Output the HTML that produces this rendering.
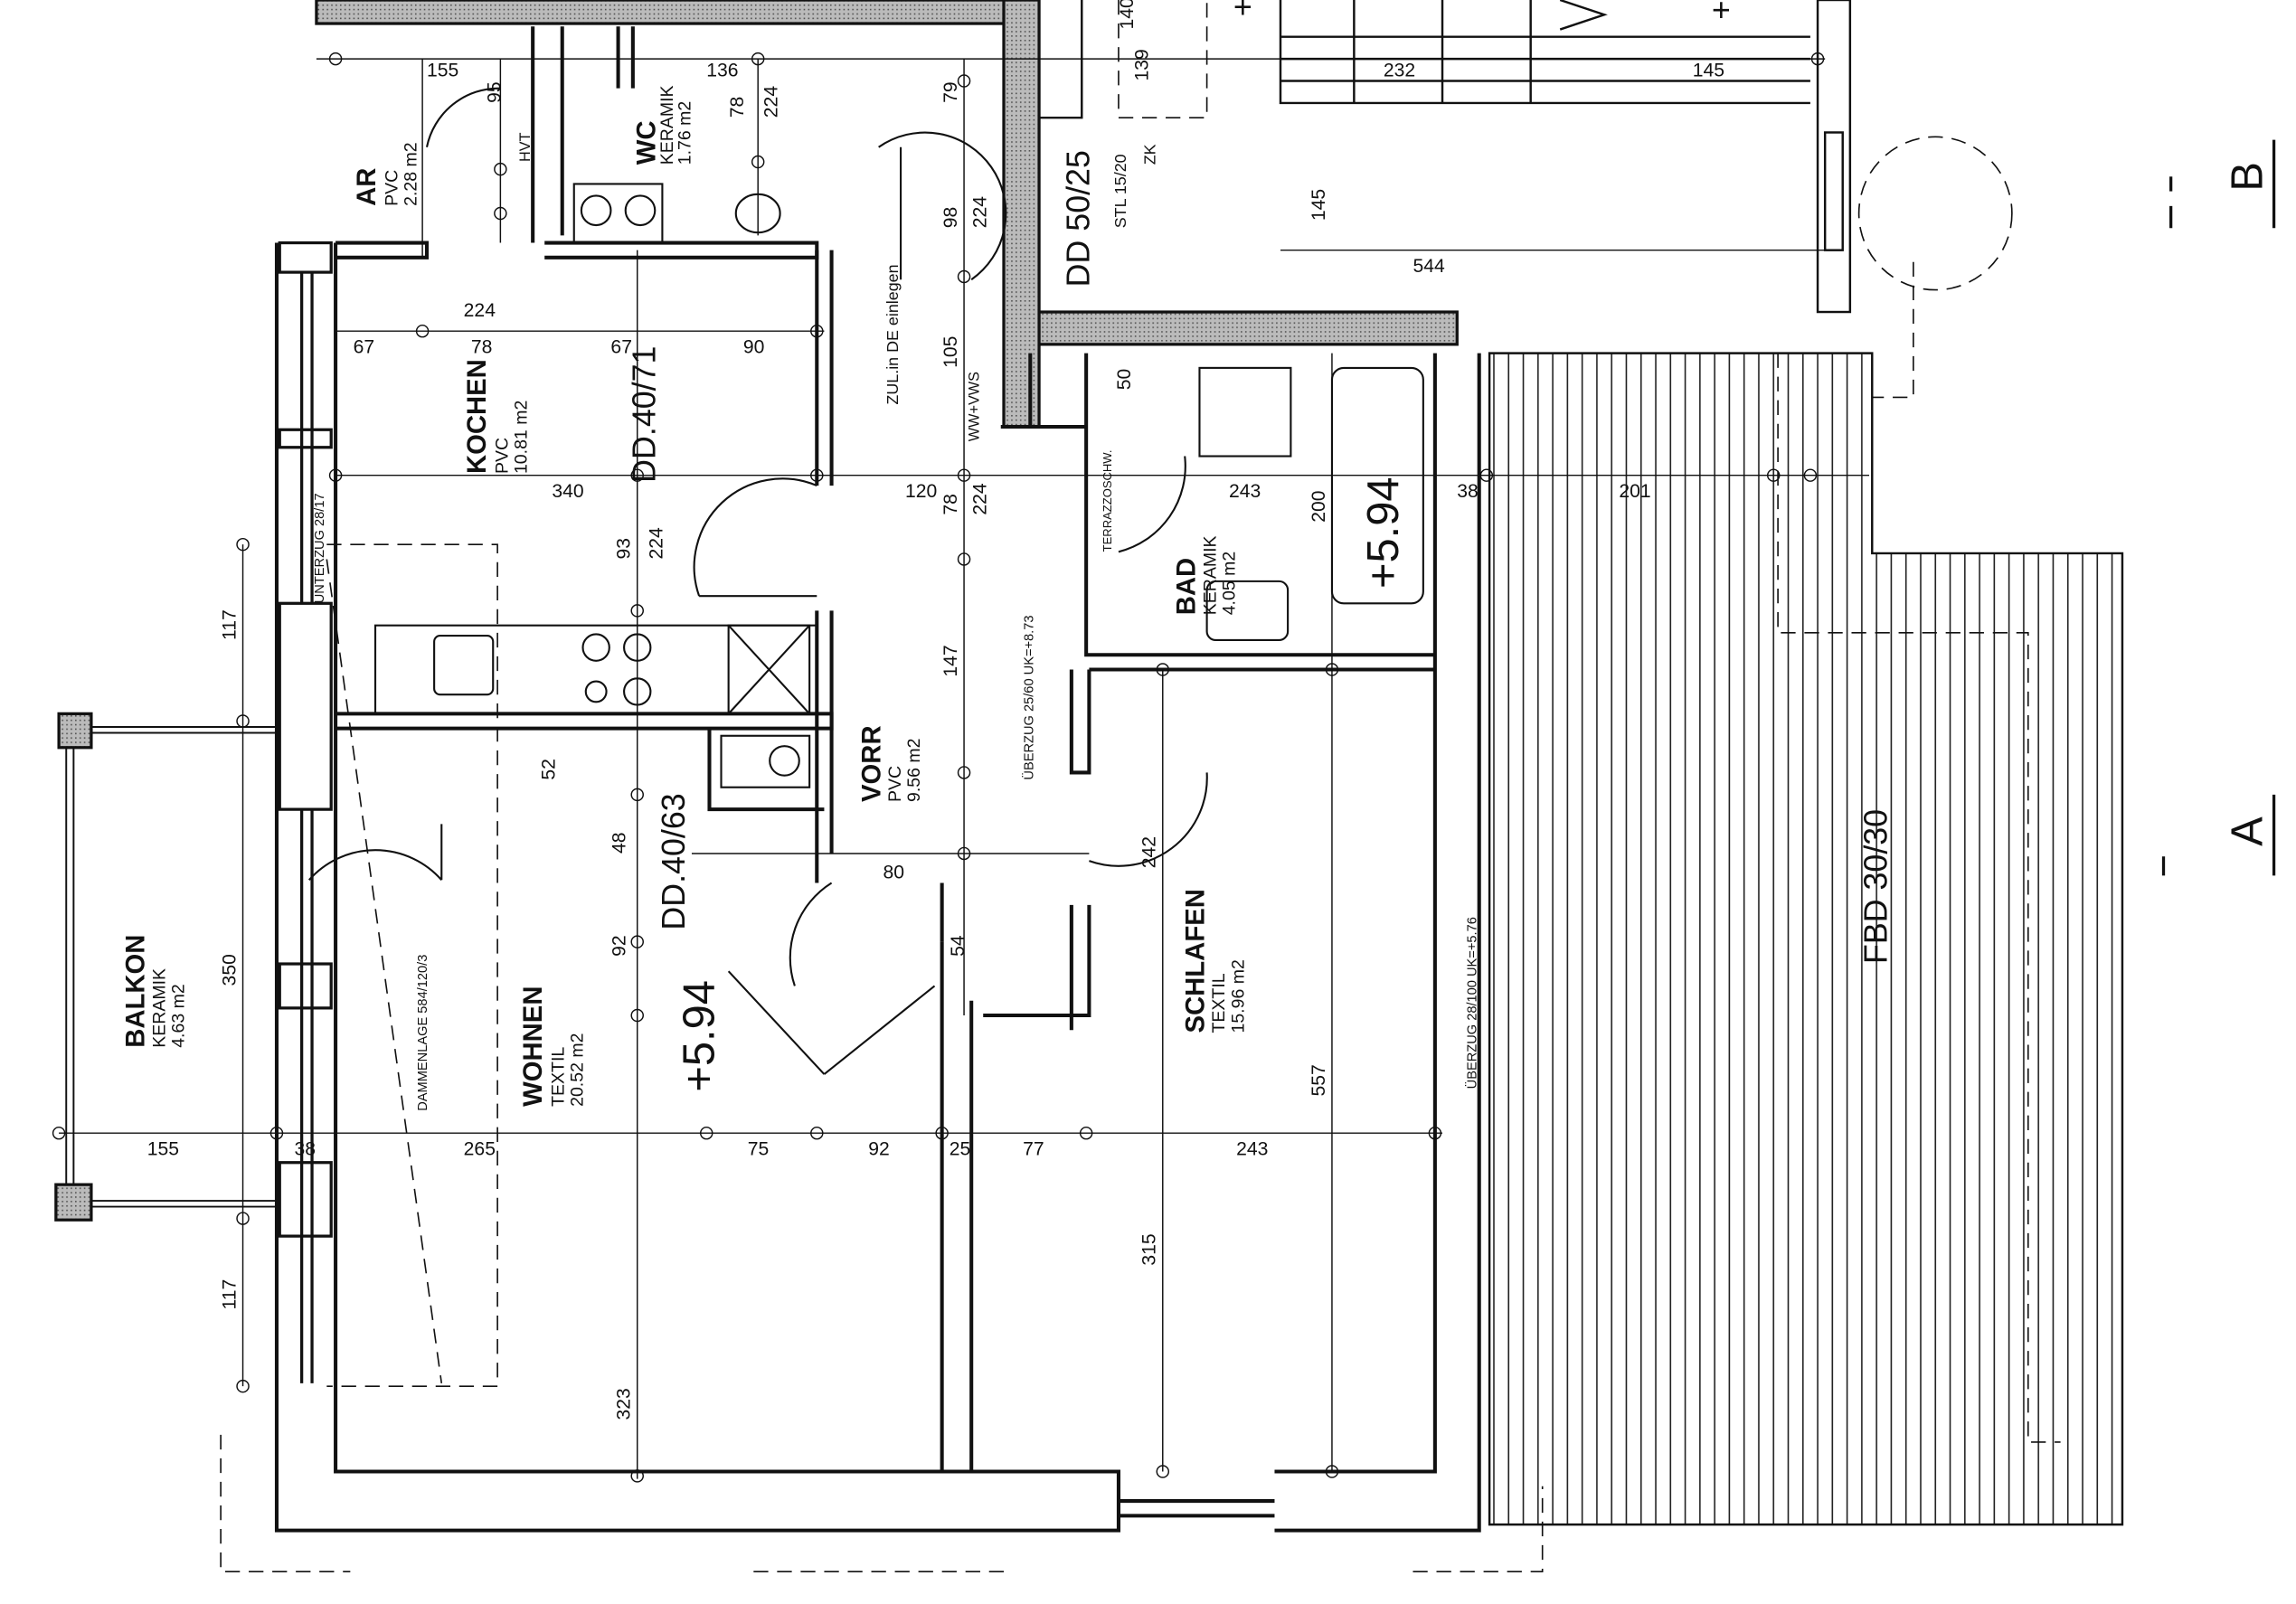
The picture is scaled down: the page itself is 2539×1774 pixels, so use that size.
<!DOCTYPE html>
<html><head><meta charset="utf-8"><style>
html,body{margin:0;padding:0;background:#fff;}
svg{display:block;}
text{font-family:"Liberation Sans",sans-serif;fill:#111;}
</style></head><body>
<svg width="2539" height="1774" viewBox="0 0 1560 1090" preserveAspectRatio="none" xmlns="http://www.w3.org/2000/svg">
<defs>
<pattern id="hat" width="3" height="3" patternUnits="userSpaceOnUse"><rect width="3" height="3" fill="#bbb"/><rect width="1" height="1" fill="#555"/></pattern>
<pattern id="vl" width="10" height="10" patternUnits="userSpaceOnUse"><line x1="5" y1="0" x2="5" y2="10" stroke="#222" stroke-width="1"/></pattern>
</defs>
<rect width="1560" height="1090" fill="#fff"/>
<!-- terrace -->
<path d="M1012 240 H1272 V376 H1442 V1036 H1012 Z" fill="url(#vl)" stroke="#111" stroke-width="1.5"/>
<g fill="none" stroke="#111" stroke-width="1" stroke-dasharray="10,6">
<path d="M1208 240 V430 H1378 V980 H1400"/>
<circle cx="1315" cy="145" r="52"/>
<path d="M1300 178 V270 H1272"/>
<path d="M150 975 V1068 H238 M512 1068 H688 M960 1068 H1048 V1010"/>
<path d="M222 370 H338 V942 H222"/>
<path d="M222 380 L300 940"/>
<path d="M760 0 V80 H820 V0"/>
</g>
<!-- top right stairs/wall -->
<g fill="none" stroke="#111" stroke-width="1.5">
<rect x="1235" y="0" width="22" height="212"/>
<rect x="1240" y="90" width="12" height="80" fill="#fff"/>
<path d="M705 0 V80 H735 V0"/>
<path d="M870 0 V70 H1230"/>
<path d="M870 55 H1230 M870 40 H1230 M870 25 H1230"/>
<path d="M920 70 V0 M980 70 V0 M1040 70 V0"/>
<path d="M1060 0 L1090 10 L1060 20"/>
</g>
<text x="838" y="12" font-size="22">+</text><text x="1163" y="14" font-size="22">+</text>
<!-- top hatched band -->
<rect x="215" y="0" width="475" height="16" fill="url(#hat)" stroke="#111" stroke-width="2"/>
<rect x="690" y="212" width="300" height="22" fill="url(#hat)" stroke="#111" stroke-width="2"/>
<rect x="682" y="0" width="24" height="290" fill="url(#hat)" stroke="#111" stroke-width="2"/>
<!-- walls -->
<g fill="none" stroke="#111" stroke-width="2.5">
<path d="M188 165 V1040 H760 V1000 H228 V165"/>
<path d="M866 1040 H1005 V240"/>
<path d="M866 1000 H975 V240"/>
<path d="M760 1020 H866 M760 1030 H866"/>
<path d="M228 175 H290 V165 H228"/>
<path d="M228 485 H565 V495 H228"/>
<path d="M555 170 V330 M565 170 V330"/>
<path d="M555 415 V600 M565 415 V580"/>
<path d="M482 495 V550 H560"/>
<path d="M640 640 V1000 M660 680 V1000 M668 690 H740 V615 M728 700 V615"/>
<path d="M640 640 V600"/>
<path d="M738 240 V445 H975 M740 455 H975 M740 455 V525 H728 V455"/>
<path d="M370 165 H555 V175 H370"/>
<path d="M362 18 V165 M382 18 V160"/>
<path d="M680 290 H738"/>
<path d="M700 240 V290 H738"/>
<path d="M420 18 V60 M430 18 V60"/>
</g>
<!-- windows left -->
<g fill="#fff" stroke="#111" stroke-width="2">
<rect x="190" y="165" width="35" height="20"/><rect x="190" y="292" width="35" height="12"/>
<rect x="190" y="410" width="35" height="140"/><rect x="190" y="655" width="35" height="30"/>
<rect x="190" y="790" width="35" height="50"/>
<line x1="205" y1="185" x2="205" y2="410"/><line x1="212" y1="185" x2="212" y2="410"/>
<line x1="205" y1="550" x2="205" y2="940"/><line x1="212" y1="550" x2="212" y2="940"/>
</g>
<!-- balcony -->
<rect x="40" y="485" width="22" height="23" fill="url(#hat)" stroke="#111" stroke-width="2"/>
<rect x="38" y="805" width="24" height="24" fill="url(#hat)" stroke="#111" stroke-width="2"/>
<g stroke="#111" stroke-width="1.2"><line x1="45" y1="508" x2="45" y2="805"/><line x1="50" y1="508" x2="50" y2="805"/>
<line x1="62" y1="494" x2="188" y2="494"/><line x1="62" y1="498" x2="188" y2="498"/>
<line x1="62" y1="816" x2="188" y2="816"/><line x1="62" y1="820" x2="188" y2="820"/></g>
<!-- fittings -->
<g fill="none" stroke="#111" stroke-width="1.3">
<rect x="255" y="425" width="300" height="60"/><rect x="495" y="425" width="55" height="60"/>
<line x1="495" y1="425" x2="550" y2="485"/><line x1="550" y1="425" x2="495" y2="485"/>
<rect x="295" y="432" width="40" height="40" rx="4"/>
<circle cx="405" cy="440" r="9"/><circle cx="433" cy="440" r="9"/><circle cx="405" cy="470" r="7"/><circle cx="433" cy="470" r="9"/>
<rect x="905" y="250" width="62" height="160" rx="8"/><rect x="815" y="250" width="62" height="60"/>
<rect x="820" y="395" width="55" height="40" rx="6"/>
<rect x="390" y="125" width="60" height="40"/><circle cx="405" cy="143" r="10"/><circle cx="435" cy="143" r="10"/>
<rect x="490" y="500" width="60" height="35"/><circle cx="533" cy="517" r="10"/>
<ellipse cx="515" cy="145" rx="15" ry="13"/>
<path d="M597 100 A50 50 0 0 1 660 190 M612 100 V190"/>
<path d="M475 405 A60 60 0 0 1 555 330 M475 405 H555"/>
<path d="M210 598 A60 60 0 0 1 300 598 M300 598 V560"/>
<path d="M740 585 A60 60 0 0 0 820 525"/>
<path d="M760 375 A60 60 0 0 0 805 310"/>
<path d="M540 670 A60 60 0 0 1 565 600"/>
<path d="M290 100 A50 50 0 0 1 340 60"/>
<line x1="560" y1="730" x2="495" y2="660"/><line x1="560" y1="730" x2="635" y2="670"/>
</g>
<!-- dimension lines -->
<g stroke="#111" stroke-width="0.9" fill="none">
<line x1="215" y1="40" x2="1240" y2="40"/><line x1="228" y1="225" x2="560" y2="225"/>
<line x1="228" y1="323" x2="1270" y2="323"/><line x1="470" y1="580" x2="740" y2="580"/>
<line x1="40" y1="770" x2="980" y2="770"/>
<line x1="433" y1="170" x2="433" y2="1005"/><line x1="655" y1="40" x2="655" y2="690"/>
<line x1="790" y1="455" x2="790" y2="1000"/><line x1="905" y1="240" x2="905" y2="1000"/>
<line x1="165" y1="370" x2="165" y2="942"/><line x1="515" y1="40" x2="515" y2="160"/>
<line x1="287" y1="40" x2="287" y2="175"/>
<line x1="1235" y1="40" x2="1235" y2="170"/>
<line x1="870" y1="170" x2="1240" y2="170"/>
<line x1="340" y1="40" x2="340" y2="165"/>
</g>
<g fill="none" stroke="#111" stroke-width="0.9">
<circle cx="433" cy="323" r="4"/><circle cx="433" cy="415" r="4"/><circle cx="433" cy="540" r="4"/><circle cx="433" cy="640" r="4"/><circle cx="433" cy="690" r="4"/><circle cx="433" cy="1003" r="4"/>
<circle cx="655" cy="55" r="4"/><circle cx="655" cy="188" r="4"/><circle cx="655" cy="323" r="4"/><circle cx="655" cy="380" r="4"/><circle cx="655" cy="525" r="4"/><circle cx="655" cy="580" r="4"/>
<circle cx="790" cy="455" r="4"/><circle cx="790" cy="1000" r="4"/><circle cx="905" cy="455" r="4"/><circle cx="905" cy="1000" r="4"/>
<circle cx="165" cy="370" r="4"/><circle cx="165" cy="490" r="4"/><circle cx="165" cy="828" r="4"/><circle cx="165" cy="942" r="4"/>
<circle cx="40" cy="770" r="4"/><circle cx="188" cy="770" r="4"/><circle cx="480" cy="770" r="4"/><circle cx="555" cy="770" r="4"/><circle cx="640" cy="770" r="4"/><circle cx="738" cy="770" r="4"/><circle cx="975" cy="770" r="4"/>
<circle cx="228" cy="40" r="4"/><circle cx="515" cy="40" r="4"/><circle cx="1235" cy="40" r="4"/><circle cx="1010" cy="323" r="4"/><circle cx="1205" cy="323" r="4"/><circle cx="1230" cy="323" r="4"/>
<circle cx="228" cy="323" r="4"/><circle cx="555" cy="323" r="4"/><circle cx="555" cy="225" r="4"/><circle cx="287" cy="225" r="4"/>
<circle cx="340" cy="115" r="4"/><circle cx="340" cy="145" r="4"/><circle cx="515" cy="110" r="4"/>
</g>
<!-- rotated labels -->
<g font-size="18" font-weight="bold">
<text transform="translate(330,322) rotate(-90)">KOCHEN</text>
<text transform="translate(255,140) rotate(-90)">AR</text>
<text transform="translate(445,112) rotate(-90)">WC</text>
<text transform="translate(598,545) rotate(-90)">VORR</text>
<text transform="translate(368,752) rotate(-90)">WOHNEN</text>
<text transform="translate(98,712) rotate(-90)">BALKON</text>
<text transform="translate(818,702) rotate(-90)">SCHLAFEN</text>
<text transform="translate(812,418) rotate(-90)">BAD</text>
</g>
<g font-size="12">
<text transform="translate(345,322) rotate(-90)">PVC</text><text transform="translate(358,322) rotate(-90)">10.81 m2</text>
<text transform="translate(270,140) rotate(-90)">PVC</text><text transform="translate(283,140) rotate(-90)">2.28 m2</text>
<text transform="translate(612,545) rotate(-90)">PVC</text><text transform="translate(625,545) rotate(-90)">9.56 m2</text>
<text transform="translate(383,752) rotate(-90)">TEXTIL</text><text transform="translate(396,752) rotate(-90)">20.52 m2</text>
<text transform="translate(112,712) rotate(-90)">KERAMIK</text><text transform="translate(125,712) rotate(-90)">4.63 m2</text>
<text transform="translate(832,702) rotate(-90)">TEXTIL</text><text transform="translate(845,702) rotate(-90)">15.96 m2</text>
<text transform="translate(826,418) rotate(-90)">KERAMIK</text><text transform="translate(839,418) rotate(-90)">4.05 m2</text>
<text transform="translate(457,112) rotate(-90)">KERAMIK</text><text transform="translate(469,112) rotate(-90)">1.76 m2</text>
</g>
<g font-size="22">
<text transform="translate(445,328) rotate(-90)">DD.40/71</text>
<text transform="translate(465,632) rotate(-90)">DD.40/63</text>
<text transform="translate(740,195) rotate(-90)">DD 50/25</text>
<text transform="translate(1282,655) rotate(-90)">FBD 30/30</text>
</g>
<g font-size="30"><text transform="translate(485,742) rotate(-90)">+5.94</text><text transform="translate(950,400) rotate(-90)">+5.94</text></g>
<g font-size="30"><text transform="translate(1537,130) rotate(-90)">B</text><text transform="translate(1537,575) rotate(-90)">A</text></g>
<g stroke="#111" stroke-width="2"><line x1="1475" y1="140" x2="1475" y2="155"/><line x1="1475" y1="120" x2="1475" y2="130"/><line x1="1545" y1="95" x2="1545" y2="155"/><line x1="1470" y1="582" x2="1470" y2="595"/><line x1="1545" y1="540" x2="1545" y2="595"/></g>
<g font-size="13">
<text transform="translate(160,435) rotate(-90)">117</text><text transform="translate(160,890) rotate(-90)">117</text><text transform="translate(160,670) rotate(-90)">350</text>
<text x="100" y="785">155</text><text x="200" y="785">38</text><text x="315" y="785">265</text><text x="508" y="785">75</text><text x="590" y="785">92</text><text x="645" y="785">25</text><text x="695" y="785">77</text><text x="840" y="785">243</text>
<text transform="translate(428,965) rotate(-90)">323</text><text transform="translate(785,860) rotate(-90)">315</text><text transform="translate(900,745) rotate(-90)">557</text>
<text transform="translate(785,590) rotate(-90)">242</text><text transform="translate(650,460) rotate(-90)">147</text>
<text transform="translate(428,380) rotate(-90)">93</text><text transform="translate(450,380) rotate(-90)">224</text>
<text x="375" y="338">340</text><text x="615" y="338">120</text><text x="835" y="338">243</text><text x="1100" y="338">201</text><text x="990" y="338">38</text>
<text x="240" y="240">67</text><text x="320" y="240">78</text><text x="415" y="240">67</text><text x="505" y="240">90</text><text x="315" y="215">224</text>
<text x="290" y="52">155</text><text x="480" y="52">136</text><text x="940" y="52">232</text><text x="1150" y="52">145</text>
<text x="960" y="185">544</text><text transform="translate(900,150) rotate(-90)">145</text>
<text transform="translate(650,70) rotate(-90)">79</text><text transform="translate(650,155) rotate(-90)">98</text><text transform="translate(670,155) rotate(-90)">224</text>
<text transform="translate(650,250) rotate(-90)">105</text><text transform="translate(650,350) rotate(-90)">78</text><text transform="translate(670,350) rotate(-90)">224</text>
<text transform="translate(505,80) rotate(-90)">78</text><text transform="translate(528,80) rotate(-90)">224</text>
<text transform="translate(340,70) rotate(-90)">95</text>
<text transform="translate(655,650) rotate(-90)">54</text><text transform="translate(425,580) rotate(-90)">48</text><text transform="translate(425,650) rotate(-90)">92</text>
<text transform="translate(377,530) rotate(-90)">52</text><text x="600" y="597">80</text>
<text transform="translate(768,265) rotate(-90)">50</text><text transform="translate(900,355) rotate(-90)">200</text>
<text transform="translate(780,55) rotate(-90)">139</text><text transform="translate(770,20) rotate(-90)">140</text>
<text transform="translate(610,275) rotate(-90)" font-size="11">ZUL.in DE einlegen</text>
<text transform="translate(765,155) rotate(-90)" font-size="11">STL 15/20</text>
<text transform="translate(785,112) rotate(-90)" font-size="11">ZK</text>
<text transform="translate(702,530) rotate(-90)" font-size="9">ÜBERZUG 25/60  UK=+8.73</text>
<text transform="translate(1003,740) rotate(-90)" font-size="9">ÜBERZUG 28/100  UK=+5.76</text>
<text transform="translate(220,410) rotate(-90)" font-size="9">UNTERZUG 28/17</text>
<text transform="translate(290,755) rotate(-90)" font-size="9">DAMMENLAGE 584/120/3</text>
<text transform="translate(755,375) rotate(-90)" font-size="8">TERRAZZOSCHW.</text>
<text transform="translate(665,300) rotate(-90)" font-size="10">WW+VWS</text>
<text transform="translate(360,110) rotate(-90)" font-size="10">HVT</text>
</g>
</svg>
</body></html>
